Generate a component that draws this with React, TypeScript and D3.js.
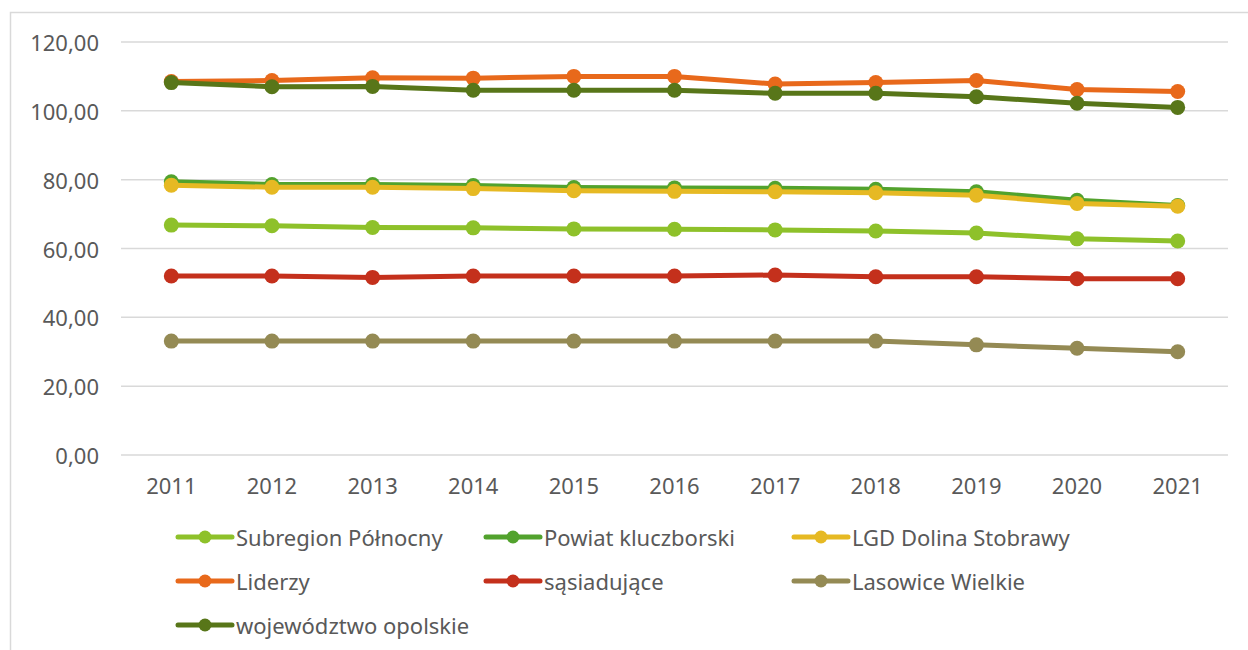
import * as d3 from "d3";

// --- data ---
const years = ["2011", "2012", "2013", "2014", "2015", "2016", "2017", "2018", "2019", "2020", "2021"];
const yTicks = [0, 20, 40, 60, 80, 100, 120];

const subregion = [66.8, 66.6, 66.1, 66.0, 65.7, 65.6, 65.4, 65.1, 64.5, 62.8, 62.2];
const powiat = [79.4, 78.6, 78.6, 78.3, 77.7, 77.6, 77.5, 77.2, 76.5, 74.0, 72.5];
const lgd = [78.4, 77.8, 77.8, 77.4, 76.8, 76.6, 76.5, 76.2, 75.5, 73.1, 72.3];
const liderzy = [108.5, 108.8, 109.6, 109.5, 110.0, 110.0, 107.8, 108.2, 108.8, 106.2, 105.6];
const sasiadujace = [52.0, 52.0, 51.6, 52.0, 52.0, 52.0, 52.3, 51.8, 51.8, 51.2, 51.2];
const lasowice = [33.1, 33.1, 33.1, 33.1, 33.1, 33.1, 33.1, 33.1, 32.0, 31.0, 30.0];
const wojewodztwo = [108.2, 107.0, 107.1, 106.0, 106.0, 106.0, 105.1, 105.1, 104.1, 102.2, 101.0];

const seriesNames = [
  "Subregion Północny",
  "Powiat kluczborski",
  "LGD Dolina Stobrawy",
  "Liderzy",
  "sąsiadujące",
  "Lasowice Wielkie",
  "województwo opolskie",
];
const seriesValues = [subregion, powiat, lgd, liderzy, sasiadujace, lasowice, wojewodztwo];
const seriesColors = ["#8EC12A", "#52A22D", "#E6B923", "#E8691B", "#C4301C", "#948A54", "#587619"];

const W = 1248;
const H = 650;
const font = "'Noto Sans', sans-serif";
const fontSize = 22;
const textColor = "#595959";

export default function App() {
  const x = d3.scalePoint<string>().domain(years).range([121, 1228]).padding(0.5);
  const y = d3.scaleLinear().domain([0, 120]).range([455, 42]);

  const line = d3
    .line<number>()
    .x((_d, i) => x(years[i]) as number)
    .y((d) => y(d));

  const fmt = (v: number) => v.toFixed(2).replace(".", ",");

  // legend: 3 columns, rows of 44px
  const legX = (i: number) => 178 + (i % 3) * 308;
  const legY = (i: number) => 537 + Math.floor(i / 3) * 44;

  return (
    <div style={{ position: "absolute", left: 0, top: 0 }}>
      <svg width={W} height={H} style={{ display: "block", background: "#fff" }}>
        {/* chart frame */}
        <rect x={10.5} y={12.5} width={W + 10} height={H + 10} fill="none" stroke="#D9D9D9" strokeWidth={1.5} />

        {/* gridlines */}
        {yTicks.map((t) => (
          <line key={t} x1={121} x2={1228} y1={y(t)} y2={y(t)} stroke="#D9D9D9" strokeWidth={1.5} />
        ))}

        {/* y labels */}
        {yTicks.map((t) => (
          <text
            key={"l" + t}
            x={99}
            y={y(t)}
            textAnchor="end"
            dominantBaseline="central"
            fontFamily={font}
            fontSize={fontSize}
            fill={textColor}
          >
            {fmt(t)}
          </text>
        ))}

        {/* x labels */}
        {years.map((yr) => (
          <text
            key={yr}
            x={x(yr)}
            y={485}
            textAnchor="middle"
            dominantBaseline="central"
            fontFamily={font}
            fontSize={fontSize}
            fill={textColor}
          >
            {yr}
          </text>
        ))}

        {/* series */}
        {seriesValues.map((vals, si) => (
          <g key={seriesNames[si]}>
            <path d={line(vals) || ""} fill="none" stroke={seriesColors[si]} strokeWidth={5} strokeLinejoin="round" />
            {vals.map((v, i) => (
              <circle key={i} cx={x(years[i])} cy={y(v)} r={7.5} fill={seriesColors[si]} />
            ))}
          </g>
        ))}

        {/* legend */}
        {seriesNames.map((name, i) => (
          <g key={"leg" + name} transform={`translate(${legX(i)},${legY(i)})`}>
            <line x1={0} x2={54} y1={0} y2={0} stroke={seriesColors[i]} strokeWidth={5} strokeLinecap="round" />
            <circle cx={27} cy={0} r={6.5} fill={seriesColors[i]} />
            <text x={58} y={0} dominantBaseline="central" fontFamily={font} fontSize={fontSize} fill={textColor}>
              {name}
            </text>
          </g>
        ))}
      </svg>
    </div>
  );
}
